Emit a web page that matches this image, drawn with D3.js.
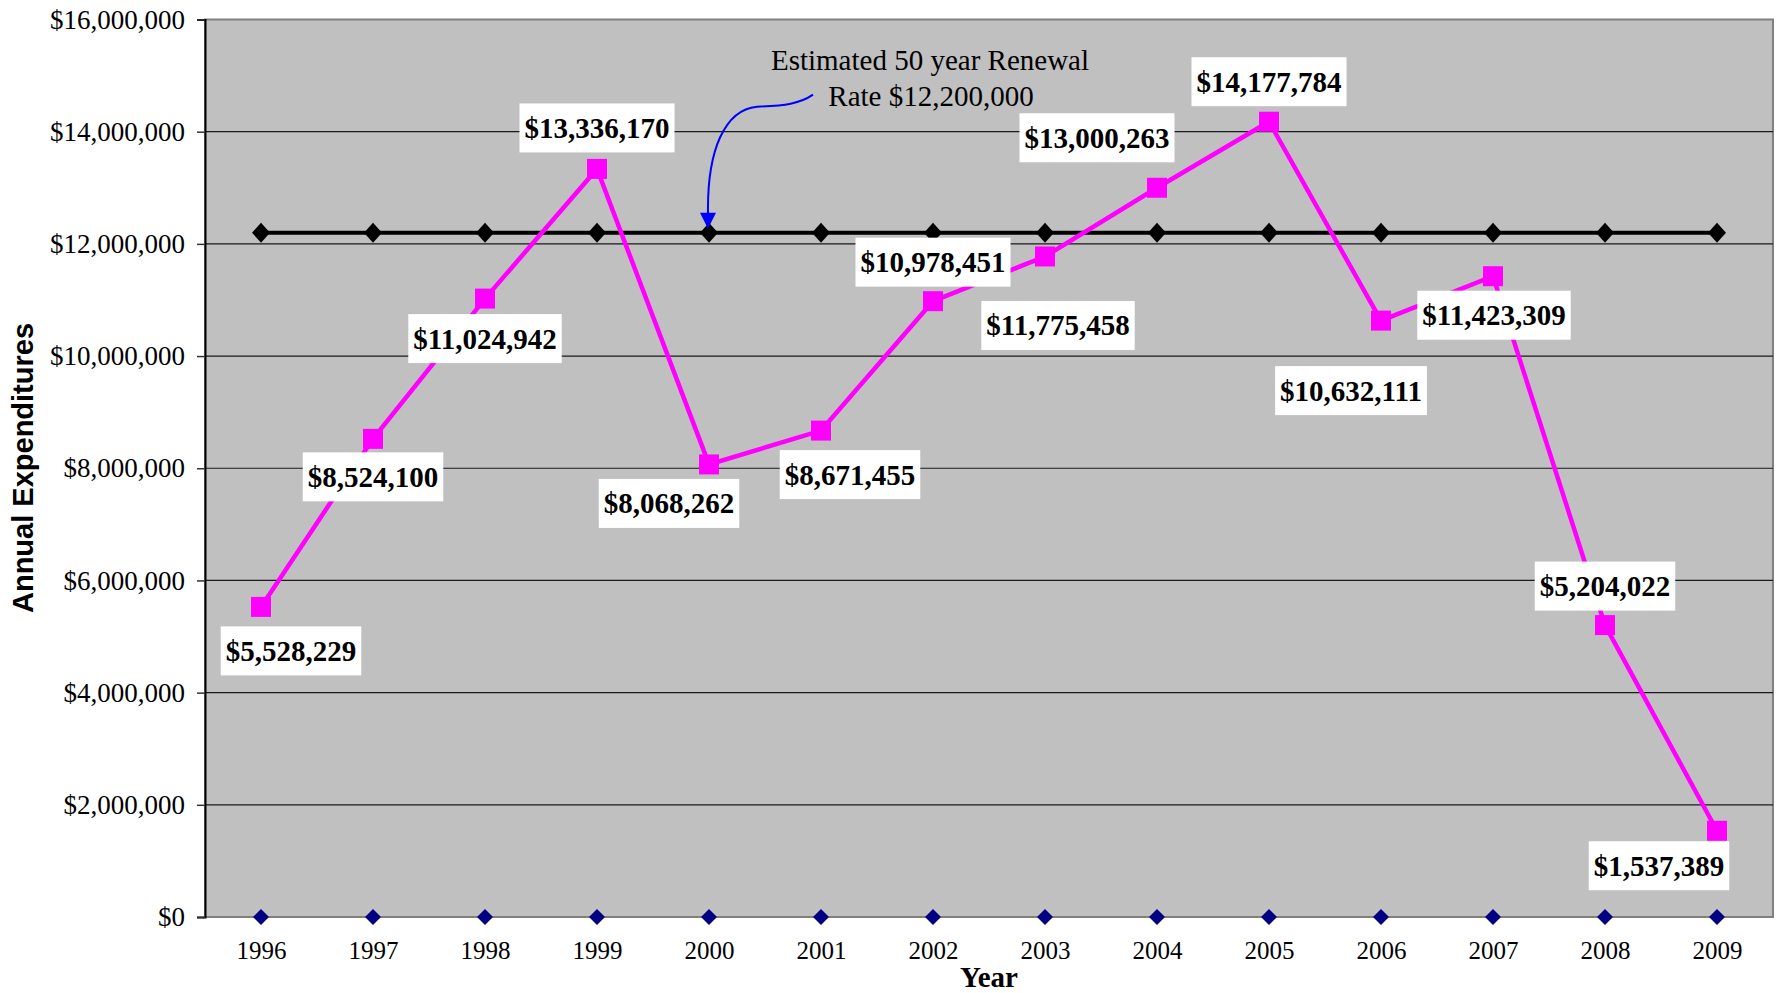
<!DOCTYPE html>
<html>
<head>
<meta charset="utf-8">
<script src="https://cdn.jsdelivr.net/npm/d3@7"></script>
<style>
  body { margin: 0; background: #fff; }
  svg { display: block; }
</style>
</head>
<body>
<div id="chart"></div>
<script>
var width = 1777,
    height = 993;

// years on the x axis
var years = ["1996", "1997", "1998", "1999", "2000", "2001", "2002",
             "2003", "2004", "2005", "2006", "2007", "2008", "2009"];

// annual expenditures (magenta line)
var expenditures = [5528229, 8524100, 11024942, 13336170, 8068262, 8671455, 10978451,
                    11775458, 13000263, 14177784, 10632111, 11423309, 5204022, 1537389];

// estimated 50 year renewal rate (black line)
var renewalRate = [12200000, 12200000, 12200000, 12200000, 12200000, 12200000, 12200000,
                   12200000, 12200000, 12200000, 12200000, 12200000, 12200000, 12200000];

// third series sitting on zero (navy diamonds)
var zeroSeries = [0, 0, 0, 0, 0, 0, 0, 0, 0, 0, 0, 0, 0, 0];

var yTicks = [0, 2000000, 4000000, 6000000, 8000000, 10000000, 12000000, 14000000, 16000000];

// where each data label sits relative to its point (hand placed in the original)
var labelOffsets = [[30, 44], [0, 38], [0, 40], [0, -41], [-40, 39], [29, 44], [0, -39],
                    [13, 69], [-60, -50], [0, -40], [-30, 70], [1, 39], [0, -39], [-58, 35]];

var plotLeft = 205, plotRight = 1773, plotTop = 19.5, plotBottom = 917;

var serif = "'Liberation Serif', 'Times New Roman', serif";
var sans = "'Liberation Sans', Arial, sans-serif";

var svg = d3.select("#chart").append("svg")
    .attr("width", width)
    .attr("height", height);

var x = d3.scalePoint()
    .domain(years)
    .range([plotLeft, plotRight])
    .padding(0.5);

var y = d3.scaleLinear()
    .domain([0, 16000000])
    .range([plotBottom, plotTop]);

var money = d3.format(",");

// plot area
svg.append("rect")
    .attr("x", plotLeft)
    .attr("y", plotTop)
    .attr("width", plotRight - plotLeft)
    .attr("height", plotBottom - plotTop)
    .attr("fill", "#c0c0c0")
    .attr("stroke", "#808080")
    .attr("stroke-width", 2);

// gridlines
svg.append("g")
    .selectAll("line")
    .data(yTicks.slice(1, -1))
    .enter()
    .append("line")
    .attr("x1", plotLeft)
    .attr("x2", plotRight)
    .attr("y1", function(d) { return y(d); })
    .attr("y2", function(d) { return y(d); })
    .attr("stroke", "#1a1a1a")
    .attr("stroke-width", 1.2);

// y axis
var yAxis = svg.append("g")
    .attr("transform", "translate(" + plotLeft + ",0)")
    .call(d3.axisLeft(y)
        .tickValues(yTicks)
        .tickFormat(function(d) { return "$" + money(d); })
        .tickSize(8)
        .tickPadding(12));
yAxis.select(".domain").attr("stroke", "#000").attr("stroke-width", 2);
yAxis.selectAll(".tick line").attr("stroke", "#333").attr("stroke-width", 1.5);
yAxis.selectAll("text")
    .attr("font-family", serif)
    .attr("font-size", 27)
    .attr("fill", "#000");

// x axis
var xAxis = svg.append("g")
    .attr("transform", "translate(0," + plotBottom + ")")
    .call(d3.axisBottom(x).tickSize(0));
xAxis.select(".domain").remove();
xAxis.selectAll("text")
    .attr("y", 42)
    .attr("dy", null)
    .attr("font-family", serif)
    .attr("font-size", 25)
    .attr("fill", "#000");

// axis titles
svg.append("text")
    .attr("x", (plotLeft + plotRight) / 2)
    .attr("y", 987)
    .attr("text-anchor", "middle")
    .attr("font-family", serif)
    .attr("font-weight", "bold")
    .attr("font-size", 29)
    .text("Year");

svg.append("text")
    .attr("transform", "translate(33,468) rotate(-90)")
    .attr("text-anchor", "middle")
    .attr("font-family", sans)
    .attr("font-weight", "bold")
    .attr("font-size", 29)
    .text("Annual Expenditures");

// zero series diamonds
svg.append("g")
    .selectAll("path")
    .data(zeroSeries)
    .enter()
    .append("path")
    .attr("d", "M0,-8L8,0L0,8L-8,0Z")
    .attr("transform", function(d, i) { return "translate(" + x(years[i]) + "," + y(d) + ")"; })
    .attr("fill", "#000080");

// renewal rate line
var line = d3.line()
    .x(function(d, i) { return x(years[i]); })
    .y(function(d) { return y(d); });

svg.append("path")
    .datum(renewalRate)
    .attr("d", line)
    .attr("fill", "none")
    .attr("stroke", "#000")
    .attr("stroke-width", 4);

svg.append("g")
    .selectAll("path")
    .data(renewalRate)
    .enter()
    .append("path")
    .attr("d", "M0,-10L9,0L0,10L-9,0Z")
    .attr("transform", function(d, i) { return "translate(" + x(years[i]) + "," + y(d) + ")"; })
    .attr("fill", "#000");

// expenditures line
svg.append("path")
    .datum(expenditures)
    .attr("d", line)
    .attr("fill", "none")
    .attr("stroke", "#ff00ff")
    .attr("stroke-width", 4.5);

svg.append("g")
    .selectAll("rect")
    .data(expenditures)
    .enter()
    .append("rect")
    .attr("x", function(d, i) { return x(years[i]) - 10; })
    .attr("y", function(d) { return y(d) - 10; })
    .attr("width", 20)
    .attr("height", 20)
    .attr("fill", "#ff00ff");

// data labels with white boxes
var labels = svg.append("g")
    .selectAll("g")
    .data(expenditures)
    .enter()
    .append("g")
    .attr("transform", function(d, i) {
        return "translate(" + (x(years[i]) + labelOffsets[i][0]) + "," + (y(d) + labelOffsets[i][1]) + ")";
    });

labels.append("rect").attr("fill", "#fff");
labels.append("text")
    .attr("text-anchor", "middle")
    .attr("y", 10)
    .attr("font-family", serif)
    .attr("font-weight", "bold")
    .attr("font-size", 29)
    .attr("fill", "#000")
    .text(function(d) { return "$" + money(d); });

labels.each(function() {
    var g = d3.select(this);
    var w = g.select("text").node().getBBox().width;
    g.select("rect")
        .attr("x", -w / 2 - 5)
        .attr("y", -24.5)
        .attr("width", w + 10)
        .attr("height", 49);
});

// annotation for the renewal rate
var note = svg.append("text")
    .attr("text-anchor", "middle")
    .attr("font-family", serif)
    .attr("font-size", 29)
    .attr("fill", "#000");
note.append("tspan").attr("x", 930).attr("y", 70).text("Estimated 50 year Renewal");
note.append("tspan").attr("x", 931).attr("y", 106).text("Rate $12,200,000");

var tipX = x("2000") - 1,
    tipY = y(12200000) - 4;

svg.append("path")
    .attr("d", "M" + (tipX + 105) + "," + (tipY - 134) +
        "C" + (tipX + 92) + "," + (tipY - 125) + " " + (tipX + 77) + "," + (tipY - 123) + " " + (tipX + 49) + "," + (tipY - 122) +
        "C" + (tipX + 17) + "," + (tipY - 119) + " " + (tipX - 1) + "," + (tipY - 79) + " " + tipX + "," + (tipY - 15))
    .attr("fill", "none")
    .attr("stroke", "#0000ff")
    .attr("stroke-width", 2);

svg.append("path")
    .attr("d", "M" + (tipX - 8) + "," + (tipY - 16) + "L" + (tipX + 8) + "," + (tipY - 16) + "L" + tipX + "," + tipY + "Z")
    .attr("fill", "#0000ff");
</script>
</body>
</html>
